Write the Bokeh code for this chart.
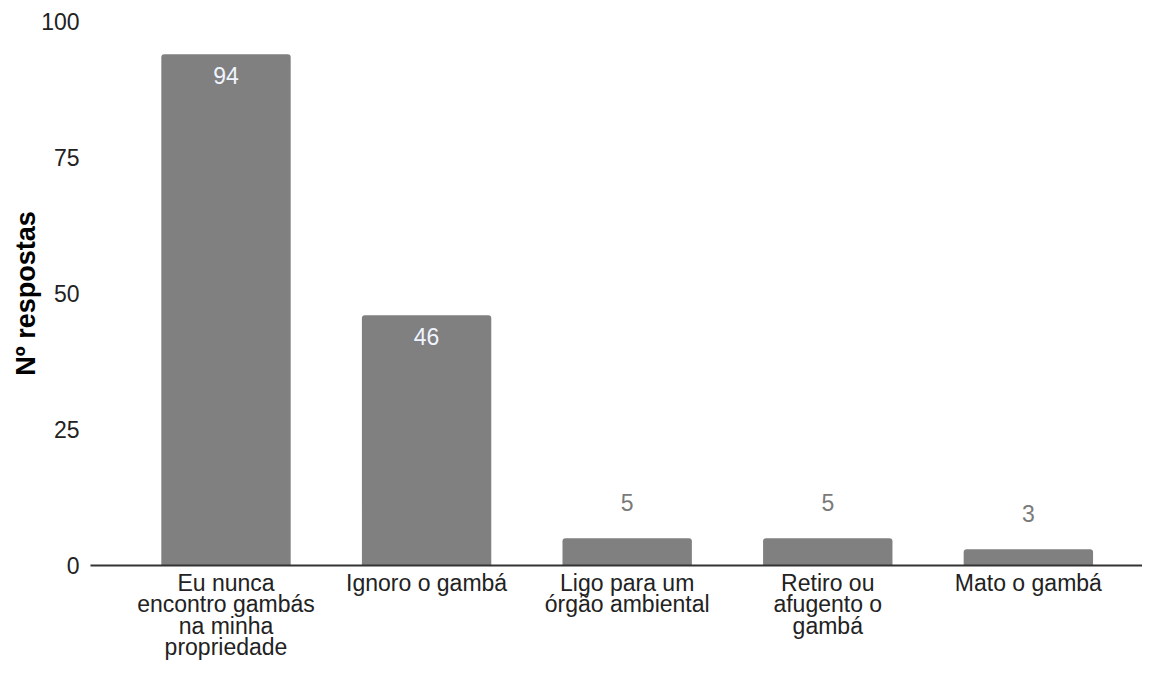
from bokeh.plotting import figure
from bokeh.models import Range1d, FixedTicker, ColumnDataSource
from bokeh.core.properties import value
from bokeh.embed import file_html
from bokeh.resources import INLINE

categories = [
    "Eu nunca\nencontro gambás\nna minha\npropriedade",
    "Ignoro o gambá",
    "Ligo para um\nórgão ambiental",
    "Retiro ou\nafugento o\ngambá",
    "Mato o gambá",
]
counts = [94, 46, 5, 5, 3]
y_ticks = [0, 25, 50, 75, 100]
y_label = "Nº respostas"

FONT = "Liberation Sans"
xs = list(range(len(categories)))

p = figure(width=1142, height=663, output_backend="svg", toolbar_location=None,
           x_range=Range1d(-0.6755, 4.569), y_range=Range1d(0, 100),
           min_border_left=90, min_border_right=0, min_border_top=21, min_border_bottom=97)
p.outline_line_color = None
p.xgrid.visible = False
p.ygrid.visible = False

src = ColumnDataSource(dict(x=xs, top=counts))
p.vbar(x="x", top="top", width=0.645, bottom=0, source=src, fill_color="#808080",
       line_color=None, border_radius=(3, 3, 0, 0))

inside = [i for i, v in enumerate(counts) if v > 20]
outside = [i for i, v in enumerate(counts) if v <= 20]
p.text(x=[xs[i] for i in inside], y=[counts[i] for i in inside],
       text=[str(counts[i]) for i in inside], y_offset=21,
       text_align="center", text_baseline="middle", text_color="#f0f4ff",
       text_font=value(FONT), text_font_size="23px")
p.text(x=[xs[i] for i in outside], y=[counts[i] for i in outside],
       text=[str(counts[i]) for i in outside], y_offset=-36,
       text_align="center", text_baseline="middle", text_color="#7a7a7a",
       text_font=value(FONT), text_font_size="23px")

xa = p.xaxis[0]
xa.ticker = FixedTicker(ticks=xs)
xa.major_label_overrides = {i: c for i, c in zip(xs, categories)}
xa.major_tick_line_color = None
xa.minor_tick_line_color = None
xa.major_tick_out = 0
xa.major_tick_in = 0
xa.minor_tick_out = 0
xa.axis_line_color = "#333333"
xa.axis_line_width = 2
xa.major_label_standoff = 4
xa.major_label_text_font = FONT
xa.major_label_text_font_size = "23px"
xa.major_label_text_color = "#222222"
xa.major_label_text_line_height = 0.83

ya = p.yaxis[0]
ya.ticker = FixedTicker(ticks=y_ticks)
ya.axis_line_color = None
ya.major_tick_line_color = None
ya.minor_tick_line_color = None
ya.major_tick_out = 0
ya.major_tick_in = 0
ya.minor_tick_out = 0
ya.major_label_standoff = 11
ya.major_label_text_font = FONT
ya.major_label_text_font_size = "23px"
ya.major_label_text_color = "#222222"
ya.axis_label = y_label
ya.axis_label_text_font = FONT
ya.axis_label_text_font_size = "27px"
ya.axis_label_text_font_style = "bold"
ya.axis_label_text_color = "#000000"
ya.axis_label_standoff = -3

open("out.html", "w").write(file_html(p, INLINE))
